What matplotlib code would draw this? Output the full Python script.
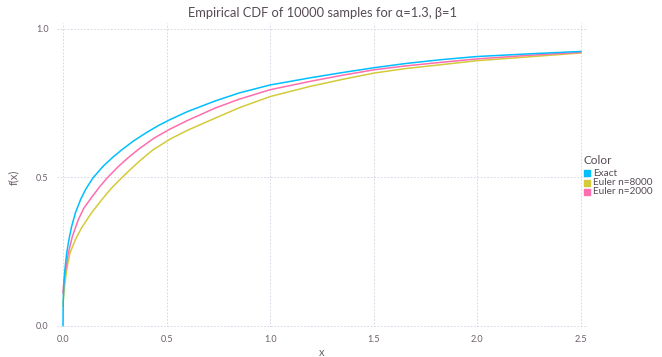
import matplotlib.pyplot as plt
from matplotlib.patches import Rectangle

plt.rcParams['font.family'] = ['Lato', 'DejaVu Sans']

# 数据：经验分布函数
exact_x = [0, 0.001, 0.004, 0.008, 0.018, 0.03, 0.042, 0.06, 0.085, 0.11, 0.146, 0.195,
           0.24, 0.283, 0.34, 0.404, 0.46, 0.516, 0.6, 0.734, 0.85, 1.0, 1.192, 1.35,
           1.5, 1.65, 1.82, 2.0, 2.25, 2.5]
exact_y = [0, 0.08, 0.14, 0.18, 0.245, 0.295, 0.335, 0.38, 0.425, 0.46, 0.499, 0.538,
           0.567, 0.592, 0.622, 0.651, 0.674, 0.694, 0.721, 0.757, 0.784, 0.811, 0.835, 0.853,
           0.869, 0.883, 0.896, 0.907, 0.916, 0.924]

e8000_x = [0, 0.002, 0.008, 0.018, 0.034, 0.06, 0.09, 0.14, 0.187, 0.23, 0.272,
           0.331, 0.38, 0.436, 0.516, 0.6, 0.734, 0.85, 1.0, 1.192, 1.35, 1.5, 1.65,
           1.82, 2.0, 2.25, 2.5]
e8000_y = [0.065, 0.09, 0.135, 0.189, 0.245, 0.29, 0.33, 0.382, 0.424, 0.46, 0.49,
           0.53, 0.561, 0.593, 0.628, 0.658, 0.699, 0.734, 0.772, 0.806, 0.83, 0.851, 0.866,
           0.879, 0.893, 0.906, 0.919]

e2000_x = [0, 0.002, 0.006, 0.013, 0.026, 0.045, 0.074, 0.1, 0.138, 0.175, 0.211, 0.267,
           0.31, 0.364, 0.44, 0.516, 0.6, 0.734, 0.85, 1.0, 1.192, 1.35, 1.5, 1.65,
           1.82, 2.0, 2.25, 2.5]
e2000_y = [0.11, 0.13, 0.155, 0.189, 0.245, 0.3, 0.357, 0.395, 0.432, 0.466, 0.496, 0.536,
           0.563, 0.594, 0.632, 0.662, 0.691, 0.733, 0.763, 0.795, 0.823, 0.844, 0.862, 0.875,
           0.887, 0.899, 0.911, 0.921]

labels = ['Exact', 'Euler n=8000', 'Euler n=2000']
colors = ['#00BFFF', '#D4CA3A', '#FF6DAE']
x_ticks = [0.0, 0.5, 1.0, 1.5, 2.0, 2.5]
y_ticks = [0.0, 0.5, 1.0]

tick_color = '#6c606b'
title_color = '#564a55'

fig = plt.figure(figsize=(6.62, 3.57), dpi=100)
ax = fig.add_axes([0.0861, 0.084, 0.888 - 0.0861, 0.9356 - 0.084])

series = [(exact_x, exact_y), (e8000_x, e8000_y), (e2000_x, e2000_y)]
# 先画黄色，再画粉色，最后画蓝色
for idx in [1, 2, 0]:
    xs, ys = series[idx]
    ax.plot(xs, ys, color=colors[idx], lw=1.1, solid_joinstyle='round')

ax.set_xlim(-0.029, 2.534)
ax.set_ylim(-0.005, 1.02)
ax.set_xticks(x_ticks)
ax.set_yticks(y_ticks)
ax.set_xticklabels([f'{v:.1f}' for v in x_ticks])
ax.set_yticklabels([f'{v:.1f}' for v in y_ticks])
ax.tick_params(length=0, colors=tick_color, labelsize=6.5, pad=6)
ax.grid(True, color='#D0D0E0', linestyle=(0, (2, 2)), lw=0.6)
ax.set_axisbelow(True)
for s in ax.spines.values():
    s.set_visible(False)

fig.text(322 / 662, 1 - 13 / 357, 'Empirical CDF of 10000 samples for α=1.3, β=1',
         ha='center', va='center', fontsize=9.3, color=title_color)
fig.text(322 / 662, 1 - 352 / 357, 'x', ha='center', va='center', fontsize=8, color=tick_color)
fig.text(14 / 662, 1 - 177 / 357, 'f(x)', ha='center', va='center', fontsize=8,
         color=tick_color, rotation=90)

# 图例
fig.text(583 / 662, 1 - 160 / 357, 'Color', ha='left', va='center', fontsize=8.5, color=title_color)
for i, (lab, c) in enumerate(zip(labels, colors)):
    yc = 173 + i * 9.5
    fig.patches.append(Rectangle((584 / 662, 1 - (yc + 3) / 357), 6 / 662, 6 / 357,
                                 transform=fig.transFigure, color=c))
    fig.text(593 / 662, 1 - yc / 357, lab, ha='left', va='center', fontsize=7.2, color=title_color)

plt.savefig('out.png', dpi=100)
